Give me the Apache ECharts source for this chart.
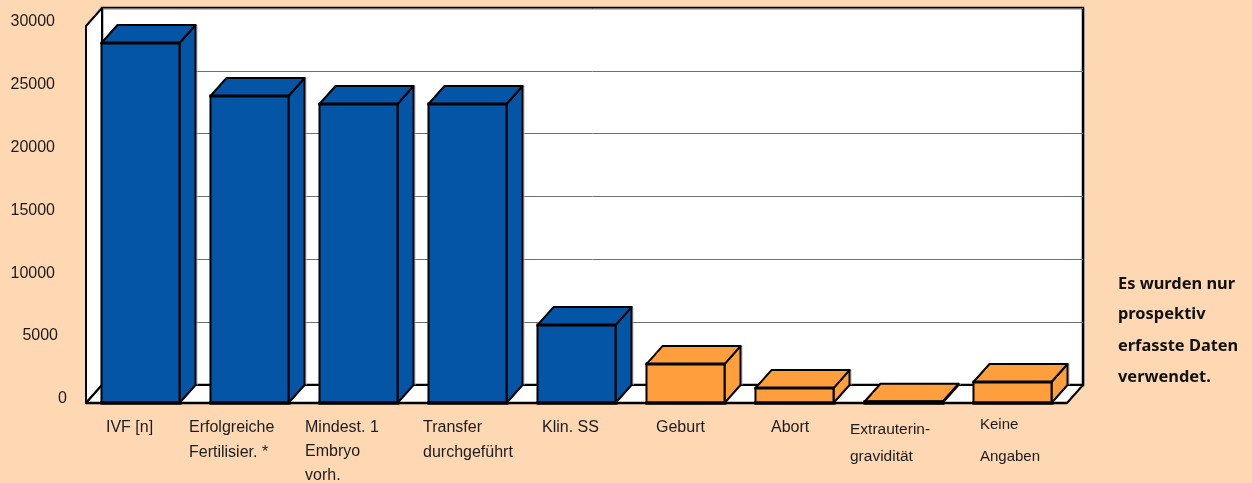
<!DOCTYPE html>
<html>
<head>
<meta charset="utf-8">
<title>IVF</title>
<script src="https://cdn.jsdelivr.net/npm/echarts@6/dist/echarts.min.js"></script>
<style>
  html, body { margin: 0; padding: 0; background: #fed7b3; }
  #chart { width: 1252px; height: 483px; }
</style>
</head>
<body>
<div id="chart"></div>
<script>
  const categories = ['IVF [n]', 'Erfolgreiche\nFertilisier. *', 'Mindest. 1\nEmbryo\nvorh.', 'Transfer\ndurchgeführt', 'Klin. SS', 'Geburt', 'Abort', 'Extrauterin-\ngravidität', 'Keine\nAngaben']
  const values = [28650, 24430, 23790, 23790, 6200, 3100, 1190, 100, 1670]
  const noteLines = ['Es wurden nur', 'prospektiv', 'erfasste Daten', 'verwendet.']

  // Layout
  const blue = '#0455a5', orange = '#ff9e3d', ink = '#000'
  const depthX = 16, depthY = 18
  const labelDx = [-34.5, -60.5, -53.5, -44.5, -34.5, -29.5, -23.5, -53.5, -32.5]
  const labelTop = [415.5, 415.5, 416, 415.5, 415.5, 415.5, 415.5, 416, 409]
  const labelLine = [25, 25, 24, 25, 25, 25, 25, 27, 32]
  const labelSize = [16, 16, 16, 16, 16, 16, 16, 15.5, 15]
  const noteY = [283, 313, 345, 376]

  const font = '"Liberation Sans", Arial, sans-serif'

  function poly(points, fill, lineWidth) {
    return {
      type: 'polygon',
      shape: { points: points },
      style: { fill: fill, stroke: ink, lineWidth: lineWidth || 2, lineJoin: 'round' },
      silent: true
    }
  }

  function line(x1, y1, x2, y2, width, color) {
    return {
      type: 'line',
      shape: { x1: x1, y1: y1, x2: x2, y2: y2 },
      style: { stroke: color || ink, lineWidth: width },
      silent: true
    }
  }

  // side wall and floor of the box, sits on the front grid
  function renderFrame(params, api) {
    const r = params.coordSys
    const l = r.x, t = r.y, b = r.y + r.height, e = r.x + r.width
    return {
      type: 'group',
      children: [
        line(e + depthX + 1.5, t - depthY, e + depthX + 1.5, b - depthY, 1, '#999'),
        poly([[l, t], [l + depthX, t - depthY], [l + depthX, b - depthY], [l, b]], '#fff', 2),
        poly([[l, b], [l + depthX, b - depthY], [e + depthX, b - depthY], [e, b]], '#fff', 2),
        line(l, b, e, b, 2.5)
      ]
    }
  }

  function renderBar(params, api) {
    const i = api.value(0)
    const top = api.coord([i, api.value(1)])
    const base = api.coord([i, 0])
    const band = api.size([1, 0])[0]
    const half = band * 0.358
    const x0 = top[0] - half, x1 = top[0] + half
    const y0 = top[1], y1 = base[1]
    const fill = i < 5 ? blue : orange
    return {
      type: 'group',
      children: [
        // soft shadow on the wall
        line(x1 + depthX + 1.5, y0 - depthY, x1 + depthX + 1.5, y1 - depthY, 1, '#bbb'),
        poly([[x1, y0], [x1 + depthX, y0 - depthY], [x1 + depthX, y1 - depthY], [x1, y1]], fill, 2),
        poly([[x0, y0], [x0 + depthX, y0 - depthY], [x1 + depthX, y0 - depthY], [x1, y0]], fill, 2),
        poly([[x0, y0], [x1, y0], [x1, y1], [x0, y1]], fill, 2),
        line(x0 - 1, y0, x1 + 1, y0, 3),
        line(x0 - 1, y1, x1 + 2, y1, 3.5)
      ]
    }
  }

  function renderLabel(params, api) {
    const i = api.value(0)
    const c = api.coord([i, 0])
    return {
      type: 'text',
      x: c[0] + labelDx[i],
      y: labelTop[i],
      silent: true,
      style: {
        text: categories[i],
        fill: '#1c1c1c',
        font: labelSize[i] + 'px ' + font,
        textAlign: 'left',
        textVerticalAlign: 'top',
        lineHeight: labelLine[i]
      }
    }
  }

  const chart = echarts.init(document.getElementById('chart'), null, { renderer: 'canvas' })

  const rows = values.map((v, i) => [i, v])

  chart.setOption({
    animation: false,
    backgroundColor: '#fed7b3',
    tooltip: { show: false },
    grid: [
      // back wall
      { left: 102, right: 169, top: 8, bottom: 98, show: true, backgroundColor: '#fff', borderColor: ink, borderWidth: 2.5 },
      // front plane
      { left: 86, right: 185, top: 26, bottom: 80 }
    ],
    xAxis: [
      { gridIndex: 0, type: 'category', data: categories, axisLine: { show: false }, axisTick: { show: false }, axisLabel: { show: false } },
      { gridIndex: 1, type: 'category', data: categories, axisLine: { show: false }, axisTick: { show: false }, axisLabel: { show: false } }
    ],
    yAxis: [
      {
        gridIndex: 0, type: 'value', min: 0, max: 30000, interval: 5000,
        axisLine: { show: false }, axisTick: { show: false }, axisLabel: { show: false },
        splitLine: { show: true, lineStyle: { color: '#6e6e6e', width: 1 } }
      },
      {
        gridIndex: 1, type: 'value', min: 0, max: 30000, interval: 5000,
        axisLine: { show: false }, axisTick: { show: false }, splitLine: { show: false },
        axisLabel: {
          margin: 19,
          fontFamily: font,
          fontSize: 16,
          color: '#1c1c1c',
          // hand placed in the original, short labels sit further right
          formatter: v => v === 0 ? '{z|0}' : v === 5000 ? '{f|5000}' : '{n|' + v + '}',
          rich: {
            n: { fontFamily: font, fontSize: 16, color: '#1c1c1c', padding: [0, 12, 8, 0] },
            f: { fontFamily: font, fontSize: 16, color: '#1c1c1c', padding: [0, 9, 10, 0] },
            z: { fontFamily: font, fontSize: 16, color: '#1c1c1c', padding: [0, 0, 8, 0] }
          }
        }
      }
    ],
    series: [
      { type: 'custom', xAxisIndex: 1, yAxisIndex: 1, clip: false, silent: true, z: 2, data: [[0, 0]], renderItem: renderFrame },
      { type: 'custom', name: 'Anzahl', xAxisIndex: 1, yAxisIndex: 1, clip: false, silent: true, z: 3, encode: { x: 0, y: 1 }, data: rows, renderItem: renderBar },
      { type: 'custom', xAxisIndex: 1, yAxisIndex: 1, clip: false, silent: true, z: 4, data: rows, renderItem: renderLabel }
    ],
    graphic: noteLines.map((t, i) => ({
      type: 'text',
      left: 1118,
      top: noteY[i] - 7,
      style: { text: t, fill: '#111', font: 'bold 16.4px "Noto Sans", sans-serif' }
    }))
  })
</script>
</body>
</html>
